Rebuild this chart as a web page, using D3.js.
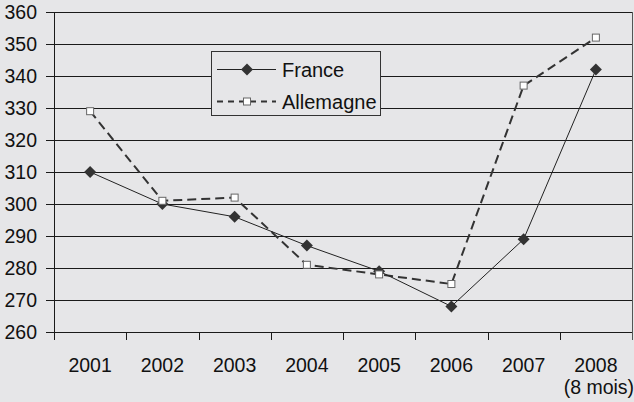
<!DOCTYPE html>
<html>
<head>
<meta charset="utf-8">
<script src="https://cdn.jsdelivr.net/npm/d3@7"></script>
<style>
  body { margin: 0; background: #e6e6e8; }
  svg { display: block; font-family: "Liberation Sans", Arial, sans-serif; }
</style>
</head>
<body>
<div id="chart"></div>
<script>
// data
var years = ["2001", "2002", "2003", "2004", "2005", "2006", "2007", "2008"];
var france = [310, 300, 296, 287, 279, 268, 289, 342];
var allemagne = [329, 301, 302, 281, 278, 275, 337, 352];
var yTicks = [260, 270, 280, 290, 300, 310, 320, 330, 340, 350, 360];

var width = 634, height = 402;
var plotLeft = 54, plotRight = 632, plotTop = 12, plotBottom = 332;
var fs = 19.5;

var svg = d3.select("#chart").append("svg")
  .attr("width", width)
  .attr("height", height);

svg.append("rect").attr("width", width).attr("height", height).attr("fill", "#e6e6e8");

var x = d3.scaleBand().domain(years).range([plotLeft, plotRight]);
var y = d3.scaleLinear().domain([260, 360]).range([plotBottom, plotTop]);

// gridlines
svg.append("g").selectAll("line")
  .data(yTicks)
  .enter().append("line")
  .attr("x1", plotLeft - 8).attr("x2", plotRight)
  .attr("y1", function(d) { return Math.round(y(d)) + 0.5; })
  .attr("y2", function(d) { return Math.round(y(d)) + 0.5; })
  .attr("stroke", "#1a1a1a").attr("stroke-width", 1);

// y labels
svg.append("g").selectAll("text")
  .data(yTicks)
  .enter().append("text")
  .attr("x", 37)
  .attr("y", function(d) { return y(d); })
  .attr("dy", "0.36em")
  .attr("text-anchor", "end")
  .attr("font-size", fs)
  .attr("fill", "#111")
  .text(function(d) { return d; });

// axis lines
svg.append("line").attr("x1", plotLeft + 0.5).attr("x2", plotLeft + 0.5)
  .attr("y1", plotTop).attr("y2", plotBottom + 8).attr("stroke", "#1a1a1a");
svg.append("line").attr("x1", plotRight + 0.5).attr("x2", plotRight + 0.5)
  .attr("y1", plotTop).attr("y2", plotBottom + 8).attr("stroke", "#555");

// x tick marks
svg.append("g").selectAll("line")
  .data(years.slice(1))
  .enter().append("line")
  .attr("x1", function(d) { return Math.round(x(d)) + 0.5; })
  .attr("x2", function(d) { return Math.round(x(d)) + 0.5; })
  .attr("y1", plotBottom).attr("y2", plotBottom + 8)
  .attr("stroke", "#1a1a1a");

// x labels
svg.append("g").selectAll("text")
  .data(years)
  .enter().append("text")
  .attr("x", function(d) { return x(d) + x.bandwidth() / 2; })
  .attr("y", 372)
  .attr("text-anchor", "middle")
  .attr("font-size", fs)
  .attr("fill", "#111")
  .text(function(d) { return d; });

svg.append("text")
  .attr("x", x("2008") + x.bandwidth() / 2 + 3)
  .attr("y", 394)
  .attr("text-anchor", "middle")
  .attr("font-size", fs)
  .attr("fill", "#111")
  .text("(8 mois)");

function cx(i) { return x(years[i]) + x.bandwidth() / 2; }

var line = d3.line()
  .x(function(d, i) { return cx(i); })
  .y(function(d) { return y(d); });

// Allemagne
svg.append("path")
  .datum(allemagne)
  .attr("d", line)
  .attr("fill", "none")
  .attr("stroke", "#333")
  .attr("stroke-width", 2)
  .attr("stroke-dasharray", "9,5");

// France
svg.append("path")
  .datum(france)
  .attr("d", line)
  .attr("fill", "none")
  .attr("stroke", "#222")
  .attr("stroke-width", 1);

var diamond = d3.symbol().type(d3.symbolSquare).size(72);

svg.append("g").selectAll("path")
  .data(france)
  .enter().append("path")
  .attr("d", diamond)
  .attr("transform", function(d, i) { return "translate(" + cx(i) + "," + y(d) + ")rotate(45)"; })
  .attr("fill", "#333");

svg.append("g").selectAll("rect")
  .data(allemagne)
  .enter().append("rect")
  .attr("x", function(d, i) { return cx(i) - 3.5; })
  .attr("y", function(d) { return y(d) - 3.5; })
  .attr("width", 7).attr("height", 7)
  .attr("fill", "#fff")
  .attr("stroke", "#666")
  .attr("stroke-width", 1);

// legend
var lg = svg.append("g");
lg.append("rect")
  .attr("x", 211.5).attr("y", 51.5)
  .attr("width", 169).attr("height", 64)
  .attr("fill", "#e6e6e8")
  .attr("stroke", "#333");

lg.append("line").attr("x1", 217).attr("x2", 276).attr("y1", 69.5).attr("y2", 69.5)
  .attr("stroke", "#222");
lg.append("path").attr("d", diamond)
  .attr("transform", "translate(247,69.5)rotate(45)")
  .attr("fill", "#333");
lg.append("text").attr("x", 282).attr("y", 69.5).attr("dy", "0.36em")
  .attr("font-size", 20).attr("fill", "#111").text("France");

lg.append("line").attr("x1", 217).attr("x2", 276).attr("y1", 101.5).attr("y2", 101.5)
  .attr("stroke", "#333").attr("stroke-width", 2).attr("stroke-dasharray", "6,5");
lg.append("rect").attr("x", 243.5).attr("y", 98).attr("width", 7).attr("height", 7)
  .attr("fill", "#fff").attr("stroke", "#666");
lg.append("text").attr("x", 282).attr("y", 101.5).attr("dy", "0.36em")
  .attr("font-size", 20).attr("fill", "#111").text("Allemagne");
</script>
</body>
</html>
